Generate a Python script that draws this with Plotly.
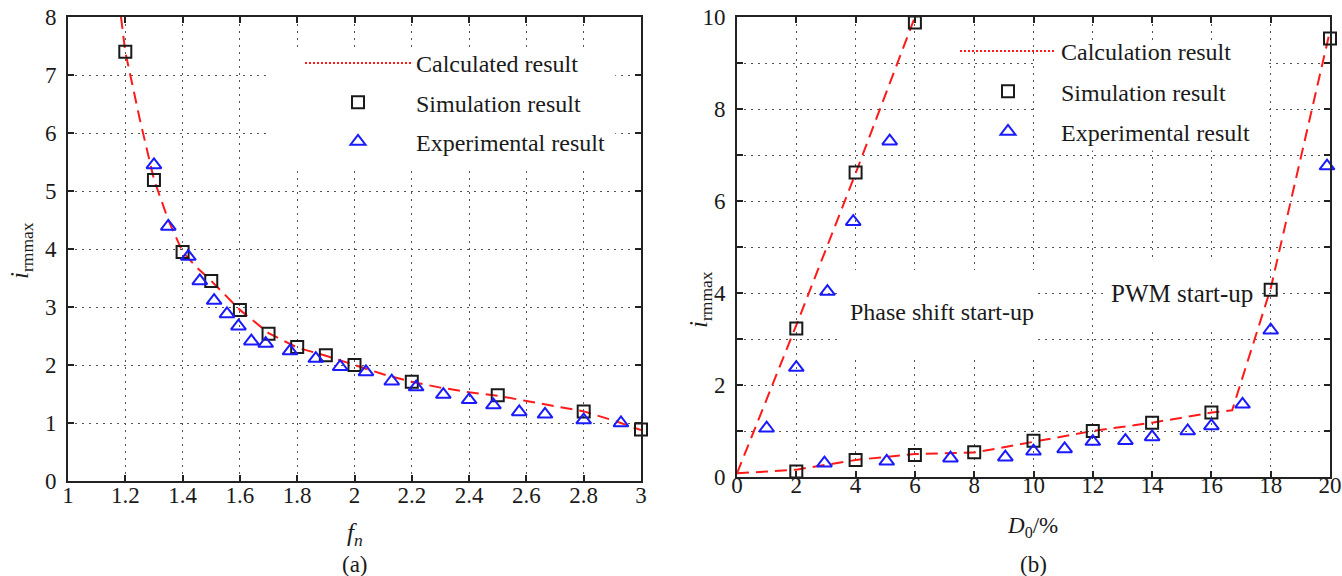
import plotly.graph_objects as go

# ---------------- data: panel (a) ----------------
calc_a_x = [1.185, 1.2, 1.25, 1.3, 1.35, 1.4, 1.45, 1.5, 1.6, 1.7, 1.8, 1.9, 2.0, 2.1, 2.2, 2.3, 2.4, 2.5, 2.6, 2.7, 2.8, 2.9, 3.0]
calc_a_y = [8.0, 7.4, 6.25, 5.2, 4.5, 3.95, 3.68, 3.45, 2.95, 2.55, 2.3, 2.16, 2.0, 1.84, 1.71, 1.61, 1.53, 1.47, 1.38, 1.29, 1.2, 1.05, 0.88]

sim_a_x = [1.2, 1.3, 1.4, 1.5, 1.6, 1.7, 1.8, 1.9, 2.0, 2.2, 2.5, 2.8, 3.0]
sim_a_y = [7.40, 5.19, 3.95, 3.45, 2.95, 2.54, 2.31, 2.17, 2.0, 1.71, 1.48, 1.20, 0.89]

exp_a_x = [1.30, 1.35, 1.42, 1.46, 1.51, 1.555, 1.595, 1.64, 1.69, 1.775, 1.865, 1.95, 2.04, 2.13, 2.215, 2.31, 2.40, 2.485, 2.575, 2.665, 2.80, 2.93]
exp_a_y = [5.45, 4.39, 3.87, 3.45, 3.11, 2.88, 2.67, 2.41, 2.37, 2.24, 2.11, 1.97, 1.88, 1.72, 1.62, 1.49, 1.40, 1.31, 1.19, 1.15, 1.05, 1.0]

xticks_a = [1, 1.2, 1.4, 1.6, 1.8, 2, 2.2, 2.4, 2.6, 2.8, 3]
xticklabels_a = ["1", "1.2", "1.4", "1.6", "1.8", "2", "2.2", "2.4", "2.6", "2.8", "3"]
yticks_a = [0, 1, 2, 3, 4, 5, 6, 7, 8]

# ---------------- data: panel (b) ----------------
calc_phase_x = [0, 2, 4, 6]
calc_phase_y = [0.08, 3.3, 6.6, 10.0]
calc_pwm_x = [0, 2, 4, 6, 8, 10, 12, 14, 16, 16.7, 18, 20]
calc_pwm_y = [0.08, 0.16, 0.37, 0.5, 0.53, 0.76, 1.0, 1.18, 1.4, 1.45, 4.1, 9.7]

sim_b_x = [2, 4, 6, 2, 4, 6, 8, 10, 12, 14, 16, 18, 20]
sim_b_y = [3.23, 6.62, 9.88, 0.12, 0.37, 0.48, 0.54, 0.79, 1.0, 1.18, 1.40, 4.07, 9.53]

exp_b_x = [1.0, 2.0, 3.05, 3.92, 5.15, 2.95, 5.05, 7.2, 9.05, 10.0, 11.05, 12.0, 13.1, 14.0, 15.2, 16.0, 17.05, 18.0, 19.9]
exp_b_y = [1.06, 2.38, 4.03, 5.55, 7.30, 0.30, 0.34, 0.41, 0.43, 0.56, 0.61, 0.77, 0.79, 0.87, 1.0, 1.11, 1.58, 3.19, 6.76]

xticks_b = [0, 2, 4, 6, 8, 10, 12, 14, 16, 18, 20]
yticks_b = [0, 2, 4, 6, 8, 10]
yminor_step_b = 1

# ---------------- styling ----------------
FONT = "Liberation Serif"
RED = "#ff1a1a"
BLUE = "#1a1aff"
BLACK = "#1a1a1a"
GRID = "#555555"
TXT = "#1a1a1a"
W, H = 1342, 576

def px_x(p):
    return p / W

def px_y(p):
    return 1 - p / H

fig = go.Figure()

line_style = dict(color=RED, width=2, dash="12px,7px")
sq_marker = dict(symbol="square-open", size=12, color=BLACK, line=dict(width=2, color=BLACK))
tri_marker = dict(symbol="triangle-up-open", size=13, color=BLUE, line=dict(width=2, color=BLUE))

# panel (a)
fig.add_trace(go.Scatter(x=calc_a_x, y=calc_a_y, mode="lines", line=line_style,
                         showlegend=False, xaxis="x", yaxis="y"))
fig.add_trace(go.Scatter(x=[None], y=[None], mode="lines", name="Calculated result",
                         line=dict(color=RED, width=2, dash="2px,2px"), legend="legend",
                         legendgroup="a1", xaxis="x", yaxis="y"))
fig.add_trace(go.Scatter(x=sim_a_x, y=sim_a_y, mode="markers", name="Simulation result",
                         marker=sq_marker, legend="legend", legendgroup="a2",
                         xaxis="x", yaxis="y", cliponaxis=False))
fig.add_trace(go.Scatter(x=exp_a_x, y=exp_a_y, mode="markers", name="Experimental result",
                         marker=tri_marker, legend="legend", legendgroup="a3",
                         xaxis="x", yaxis="y", cliponaxis=False))

# panel (b)
fig.add_trace(go.Scatter(x=calc_phase_x, y=calc_phase_y, mode="lines", line=line_style,
                         showlegend=False, xaxis="x2", yaxis="y2"))
fig.add_trace(go.Scatter(x=calc_pwm_x, y=calc_pwm_y, mode="lines", line=line_style,
                         showlegend=False, xaxis="x2", yaxis="y2"))
fig.add_trace(go.Scatter(x=[None], y=[None], mode="lines", name="Calculation result",
                         line=dict(color=RED, width=2, dash="2px,2px"), legend="legend2",
                         legendgroup="b1", xaxis="x2", yaxis="y2"))
fig.add_trace(go.Scatter(x=sim_b_x, y=sim_b_y, mode="markers", name="Simulation result",
                         marker=sq_marker, legend="legend2", legendgroup="b2",
                         xaxis="x2", yaxis="y2", cliponaxis=False))
fig.add_trace(go.Scatter(x=exp_b_x, y=exp_b_y, mode="markers", name="Experimental result",
                         marker=tri_marker, legend="legend2", legendgroup="b3",
                         xaxis="x2", yaxis="y2", cliponaxis=False))

axis_common = dict(
    showline=True, linecolor="#222222", linewidth=2, mirror="ticks",
    ticks="inside", ticklen=6, tickwidth=1.5, tickcolor="#222222",
    showgrid=True, gridcolor=GRID, gridwidth=1, griddash="2px,5px",
    zeroline=False, tickfont=dict(family=FONT, size=23, color=TXT),
    automargin=False,
)

fig.update_layout(
    width=W, height=H,
    margin=dict(l=0, r=0, t=0, b=0, pad=0, autoexpand=False),
    paper_bgcolor="white", plot_bgcolor="white",
    font=dict(family=FONT, color=TXT),
    xaxis=dict(domain=[px_x(68), px_x(641)], range=[1, 3], tickmode="array",
               tickvals=xticks_a, ticktext=xticklabels_a, anchor="y",
               ticklabelstandoff=-8, **axis_common),
    yaxis=dict(domain=[px_y(481), px_y(17)], range=[0, 8], tickmode="array",
               tickvals=yticks_a, anchor="x", ticklabelstandoff=5, **axis_common),
    xaxis2=dict(domain=[px_x(737), px_x(1330)], range=[0, 20], tickmode="array",
                tickvals=xticks_b, anchor="y2", ticklabelstandoff=-14, **axis_common),
    yaxis2=dict(domain=[px_y(477), px_y(17)], range=[0, 10], tickmode="array",
                tickvals=yticks_b, anchor="x2", ticklabelstandoff=5,
                minor=dict(tick0=0, dtick=yminor_step_b, ticks="inside", ticklen=6,
                           tickwidth=1.5, tickcolor="#222222", showgrid=True,
                           gridcolor=GRID, gridwidth=1, griddash="2px,5px"),
                **axis_common),
    legend=dict(x=px_x(300), y=px_y(41), xanchor="left", yanchor="top",
                bgcolor="rgba(0,0,0,0)", itemwidth=106, tracegroupgap=5,
                font=dict(family=FONT, size=24, color=TXT)),
    legend2=dict(x=px_x(955), y=px_y(29), xanchor="left", yanchor="top",
                 bgcolor="rgba(0,0,0,0)", itemwidth=96, tracegroupgap=6,
                 font=dict(family=FONT, size=24, color=TXT)),
)

# white boxes that hide the grid behind legend / text (drawn between grid and traces)
fig.add_shape(type="rect", xref="x", yref="y", x0=1.70, x1=2.91, y0=5.40, y1=7.43,
              fillcolor="white", line=dict(width=0), layer="between")
fig.add_shape(type="rect", xref="x2", yref="y2", x0=10.1, x1=17.8, y0=7.1, y1=9.5,
              fillcolor="white", line=dict(width=0), layer="between")
fig.add_shape(type="rect", xref="x2", yref="y2", x0=3.47, x1=10.15, y0=2.65, y1=4.5,
              fillcolor="white", line=dict(width=0), layer="between")
fig.add_shape(type="rect", xref="x2", yref="y2", x0=12.5, x1=17.55, y0=3.26, y1=4.78,
              fillcolor="white", line=dict(width=0), layer="between")

ann_font = dict(family=FONT, size=24, color=TXT)
fig.add_annotation(text="Phase shift start-up", x=6.91, y=3.59, xref="x2", yref="y2",
                   showarrow=False, font=ann_font, xanchor="center", yanchor="middle")
fig.add_annotation(text="PWM start-up", x=15.0, y=4.0, xref="x2", yref="y2",
                   showarrow=False, font=dict(family=FONT, size=25, color=TXT),
                   xanchor="center", yanchor="middle")

# axis titles and captions
title_font = dict(family=FONT, size=25, color=TXT)
def paper_text(text, x, y, font, angle=0):
    fig.add_annotation(text=text, x=px_x(x), y=px_y(y), xref="paper", yref="paper",
                       showarrow=False, textangle=angle, font=font,
                       xanchor="center", yanchor="middle")

paper_text("<i>i</i><sub>rmmax</sub>", 22, 251, title_font, -90)
paper_text("<i>i</i><sub>rmmax</sub>", 700, 300, title_font, -90)
paper_text("<i>f</i><sub><i>n</i></sub>", 355, 534, title_font)
paper_text("<i>D</i><sub>0</sub>/%", 1032, 527, dict(family=FONT, size=23, color=TXT))
paper_text("(a)", 355, 564, dict(family=FONT, size=23, color=TXT))
paper_text("(b)", 1033, 564, dict(family=FONT, size=23, color=TXT))

fig.write_html("out.html")
